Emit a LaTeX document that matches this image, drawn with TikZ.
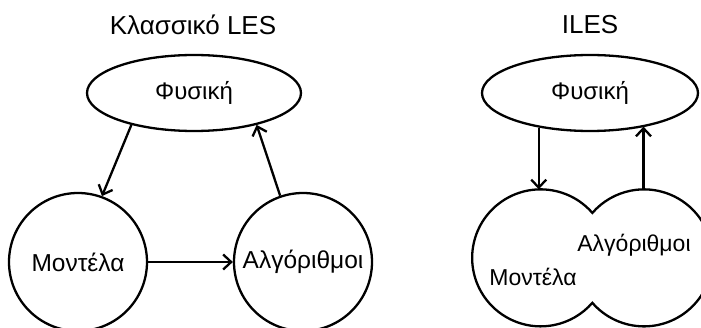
\documentclass[tikz,border=0pt]{standalone}
\usepackage{fontspec}
\setmainfont{Liberation Sans}
\usetikzlibrary{shapes.geometric,arrows.meta}
\tikzset{
    oval/.style={ellipse,draw,line width=2.3pt,minimum width=214pt,minimum height=76pt,inner sep=0pt,font=\fontsize{24}{28}\selectfont},
    ball/.style={circle,draw,line width=2.3pt,minimum size=138pt,inner sep=0pt,font=\fontsize{24.5}{28}\selectfont},
    lobe/.style={circle,minimum size=137pt,inner sep=0pt},
    flow/.style={line width=2.3pt,-{Straight Barb[length=8pt,width=15pt,line width=2.3pt]}},
    lbl/.style={font=\fontsize{23}{27}\selectfont},
    heading/.style={font=\fontsize{26}{30}\selectfont},
}

\begin{document}
\begin{tikzpicture}[x=1pt,y=1pt]
    \useasboundingbox (0,0) rectangle (701,327);
    % classic LES
    \node[heading] (t1) at (193,302) {Κλασσικό LES};
    \node[oval] (fys) at (194,234) {Φυσική};
    \node[ball] (mod) at (78,65) {Μοντέλα};
    \node[ball] (alg) at (303,65) {Αλγόριθμοι};
    \draw[flow] (fys.207) -- (mod.70);
    \draw[flow] (alg.109) -- (fys.333);
    \draw[flow] (mod.east) -- (alg.west);
    % ILES
    \node[heading] (t2) at (590,302) {ILES};
    \node[oval,minimum width=216pt] (fys2) at (590,234) {Φυσική};
    \node[lobe] (loba) at (540.5,69) {};
    \node[lobe] (lobb) at (643.5,69) {};
    \draw[line width=2.3pt] (loba.41) arc[start angle=41,end angle=319,radius=68.5]
        arc[start angle=221,end angle=499,radius=68.5] -- cycle;
    \node[lbl] (mod2) at (533,50) {Μοντέλα};
    \node[lbl] (alg2) at (634,82) {Αλγόριθμοι};
    \draw[flow] (fys2.214) -- (fys2.214 |- loba.north);
    \draw[flow] (lobb.north) -- (lobb.north |- fys2.329);
\end{tikzpicture}
\end{document}
